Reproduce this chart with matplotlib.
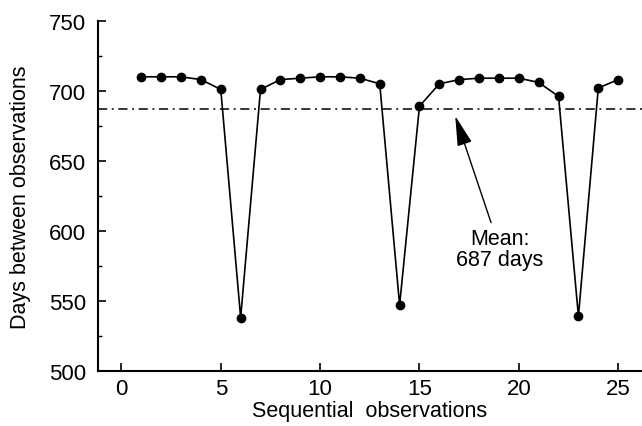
import matplotlib
matplotlib.use("Agg")
import matplotlib.pyplot as plt
from matplotlib.ticker import MultipleLocator

plt.rcParams['font.family'] = ['Liberation Sans', 'DejaVu Sans']

obs = list(range(1, 26))
days = [710, 710, 710, 708, 701, 538, 701, 708, 709, 710, 710, 709, 705,
        547, 689, 705, 708, 709, 709, 709, 706, 696, 539, 702, 708]
mean_days = 687
xticks = [0, 5, 10, 15, 20, 25]
yticks = [500, 550, 600, 650, 700, 750]

fig = plt.figure(figsize=(6.42, 4.27), dpi=100)
ax = fig.add_axes([0.152, 0.129, 0.848, 0.82])

ax.plot(obs, days, color='black', lw=1.2, marker='o', markersize=6,
        markerfacecolor='black', markeredgecolor='black', clip_on=False, zorder=3)
ax.axhline(mean_days, color='black', lw=1.1, linestyle=(0, (6, 3, 1.3, 3)))

ax.annotate('Mean:\n687 days', xy=(16.8, 682), xytext=(19.05, 587),
            ha='center', va='center', fontsize=15.5, linespacing=1.0,
            arrowprops=dict(arrowstyle='-|>,head_length=1.2,head_width=0.3',
                            color='black', lw=1.0, shrinkA=2, shrinkB=0))

ax.set_xlim(-1.2, 26.2)
ax.set_ylim(500, 750)
ax.set_xticks(xticks)
ax.set_yticks(yticks)
ax.yaxis.set_minor_locator(MultipleLocator(25))
ax.tick_params(axis='both', which='major', direction='in', length=6, width=1.2,
               labelsize=16)
ax.tick_params(axis='y', which='minor', direction='in', length=3, width=1.0)
ax.tick_params(axis='x', pad=5)
ax.tick_params(axis='y', pad=8)
ax.spines['top'].set_visible(False)
ax.spines['right'].set_visible(False)
ax.spines['left'].set_linewidth(1.5)
ax.spines['bottom'].set_linewidth(1.5)

ax.set_xlabel('Sequential  observations', fontsize=15.5, labelpad=1)
ax.set_ylabel('Days between observations', fontsize=15.5, labelpad=13)

fig.savefig('out.png', dpi=100)
